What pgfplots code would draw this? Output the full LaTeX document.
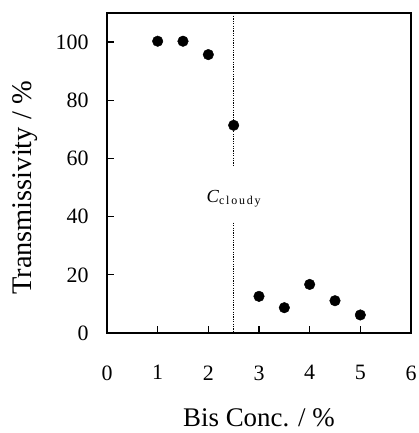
\documentclass[border=0pt]{standalone}
\usepackage{pgfplots}
\pgfplotsset{compat=1.18}
\usepackage{fontspec}
\setmainfont{Liberation Serif}
\begin{document}
\begin{tikzpicture}
\useasboundingbox (-107bp,-100bp) rectangle (312bp,333bp);
\begin{axis}[
  scale only axis, width=304bp, height=320bp,
  xmin=0, xmax=6, ymin=0, ymax=110,
  xtick={0,1,...,6}, ytick={0,20,...,100},
  tick align=inside, xtick pos=bottom, ytick pos=left,
  major tick length=7bp,
  axis line style={line width=1.5bp},
  every tick/.style={black, line width=1.2bp},
  /pgf/number format/assume math mode=true,
  tick label style={font=\fontsize{22}{24}\selectfont},
  xticklabel style={yshift=-29bp},
  yticklabel style={xshift=-15bp},
  xlabel={Bis Conc. / \%},
  ylabel={Transmissivity / \%},
  xlabel style={font=\fontsize{27}{30}\selectfont, at={(axis description cs:0.5,-0.266)}, anchor=center},
  ylabel style={font=\fontsize{28.5}{30}\selectfont, at={(axis description cs:-0.27,0.453)}, anchor=center, rotate=0},
]
\addplot[black, line width=1.6bp, dash pattern=on 1.3bp off 1.1bp] coordinates {(2.5,109) (2.5,57.3)};
\addplot[black, line width=1.6bp, dash pattern=on 1.3bp off 1.1bp] coordinates {(2.5,37.9) (2.5,0)};
\addplot[only marks, mark=*, mark size=5.3bp, black] coordinates {
(1,100.3) (1.5,100.3) (2,95.7) (2.5,71.4) (3,12.6) (3.5,8.7) (4,16.7) (4.5,11.1) (5,6.2)};
\node[anchor=base, font=\fontsize{18.5}{20}\selectfont] at (axis cs:2.5,45) {\textit{C}\raisebox{-2.5bp}{\fontsize{12}{12}\selectfont c\kern1.8bp l\kern1.8bp o\kern1.8bp u\kern1.8bp d\kern1.8bp y}};
\end{axis}
\end{tikzpicture}
\end{document}
